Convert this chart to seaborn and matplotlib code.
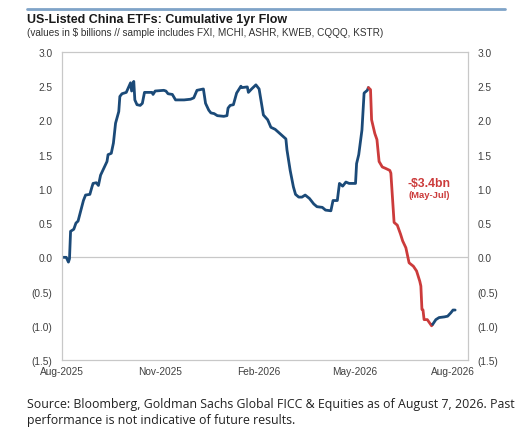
import pandas as pd
import numpy as np
import matplotlib
matplotlib.use("Agg")
import matplotlib.pyplot as plt
import matplotlib.dates as mdates
import seaborn as sns

# cumulative 1yr flow, $bn -- days counted from 2025-08-01
start = pd.Timestamp("2025-08-01")

pre_days = [0, 4, 6, 7, 8, 11, 13, 15, 18, 20, 22, 26, 28, 29, 32, 34, 36, 39, 42, 43,
            46, 48, 50, 53, 54, 56, 60, 64, 65, 67, 68, 70, 73, 75, 77, 84, 85, 87, 95, 97,
            99, 103, 106, 114, 120, 123, 126, 132, 134, 137, 139, 142, 145, 151, 154, 155, 157, 160, 163, 167,
            168, 173, 174, 177, 181, 184, 188, 192, 195, 199, 204, 209, 210, 213, 216, 218, 221, 224, 227, 231,
            235, 238, 243, 246, 251, 253, 257, 259, 262, 265, 268, 274, 275, 277, 280, 282, 285, 286]
pre_vals = [0.00, 0.00, -0.07, -0.02, 0.38, 0.41, 0.50, 0.53, 0.71, 0.83, 0.91, 0.92, 1.03, 1.08, 1.09, 1.05, 1.20, 1.30, 1.40, 1.50,
            1.52, 1.67, 1.96, 2.13, 2.35, 2.39, 2.41, 2.55, 2.43, 2.57, 2.30, 2.23, 2.22, 2.25, 2.41, 2.41, 2.38, 2.43, 2.44, 2.43,
            2.39, 2.38, 2.30, 2.30, 2.31, 2.33, 2.44, 2.46, 2.25, 2.15, 2.11, 2.10, 2.07, 2.06, 2.07, 2.18, 2.22, 2.23, 2.40, 2.50,
            2.48, 2.49, 2.41, 2.46, 2.52, 2.46, 2.08, 2.01, 1.90, 1.87, 1.80, 1.73, 1.57, 1.27, 1.03, 0.92, 0.88, 0.88, 0.91, 0.86,
            0.78, 0.74, 0.73, 0.69, 0.68, 0.83, 0.83, 1.08, 1.04, 1.10, 1.08, 1.08, 1.37, 1.50, 1.86, 2.40, 2.44, 2.48]

red_days = [286, 288, 289, 292, 294, 296, 299, 302, 306, 307, 310, 313, 316, 318, 321, 324, 328, 331, 334, 335,
            336, 337, 338, 341, 345, 346]
red_vals = [2.48, 2.45, 2.01, 1.81, 1.72, 1.40, 1.32, 1.30, 1.27, 1.23, 0.51, 0.47, 0.34, 0.24, 0.14, -0.08, -0.13, -0.20, -0.35, -0.42,
            -0.76, -0.77, -0.91, -0.91, -1.00, -0.98]

post_days = [346, 349, 352, 357, 360, 363, 365, 367]
post_vals = [-0.98, -0.91, -0.88, -0.87, -0.86, -0.81, -0.77, -0.77]

y_ticks = [3.0, 2.5, 2.0, 1.5, 1.0, 0.5, 0.0, -0.5, -1.0, -1.5]
x_ticks = ["2025-08-01", "2025-11-01", "2026-02-01", "2026-05-01", "2026-08-01"]

BLUE = "#1b4a78"
RED = "#cc3b3b"

frames = []
for name, d, v in [("pre", pre_days, pre_vals), ("may_jul", red_days, red_vals), ("post", post_days, post_vals)]:
    frames.append(pd.DataFrame({"date": start + pd.to_timedelta(d, unit="D"), "flow": v, "seg": name}))
df = pd.concat(frames, ignore_index=True)

sns.set_style("white")
plt.rcParams["font.family"] = ["Liberation Sans", "DejaVu Sans"]

fig = plt.figure(figsize=(5.22, 4.35), dpi=100)
ax = fig.add_axes([62 / 522, 1 - 361 / 435, 406 / 522, 308 / 435])

sns.lineplot(data=df, x="date", y="flow", hue="seg", palette={"pre": BLUE, "may_jul": RED, "post": BLUE},
             linewidth=2.0, legend=False, ax=ax, sort=False)

ax.axhline(0, color="#c8c8c8", linewidth=0.9, zorder=0)
ax.set_ylim(-1.5, 3.0)
ax.set_xlim(pd.Timestamp("2025-08-01"), pd.Timestamp("2026-08-15"))
ax.set_yticks(y_ticks)

def fmt(v):
    return f"({abs(v):.1f})" if v < 0 else f"{v:.1f}"

ax.set_yticklabels([fmt(v) for v in y_ticks])
ax.set_xticks(pd.to_datetime(x_ticks))
ax.xaxis.set_major_formatter(mdates.DateFormatter("%b-%Y"))
ax.tick_params(axis="both", length=0, labelsize=7.3, colors="#404040")
ax.tick_params(axis="x", pad=4)
ax.tick_params(axis="y", right=True, labelright=True, pad=7)
ax.set_xlabel("")
ax.set_ylabel("")
for s in ax.spines.values():
    s.set_color("#c8c8c8")
    s.set_linewidth(0.9)

ax.text(pd.Timestamp("2026-07-10"), 1.08, "-$3.4bn", color=RED, fontsize=8.8, fontweight="bold", ha="center", va="center")
ax.text(pd.Timestamp("2026-07-10"), 0.92, "(May-Jul)", color=RED, fontsize=6.8, fontweight="bold", ha="center", va="center")

# header
fig.add_artist(plt.Line2D([27 / 522, 505 / 522], [1 - 10 / 435] * 2, color="#7fa3c8", linewidth=2))
fig.text(27 / 522, 1 - 20 / 435, "US-Listed China ETFs: Cumulative 1yr Flow", fontsize=9, fontweight="bold",
         color="#1a1a1a", va="center")
fig.text(27 / 522, 1 - 33 / 435, "(values in $ billions // sample includes FXI, MCHI, ASHR, KWEB, CQQQ, KSTR)",
         fontsize=7.2, color="#333333", va="center")

fig.text(27 / 522, 1 - 405 / 435, "Source: Bloomberg, Goldman Sachs Global FICC & Equities as of August 7, 2026. Past",
         fontsize=8.9, color="#222222", va="center", family=["Open Sans", "DejaVu Sans"])
fig.text(27 / 522, 1 - 421 / 435, "performance is not indicative of future results.",
         fontsize=8.9, color="#222222", va="center", family=["Open Sans", "DejaVu Sans"])

fig.savefig("out.png", dpi=100)
